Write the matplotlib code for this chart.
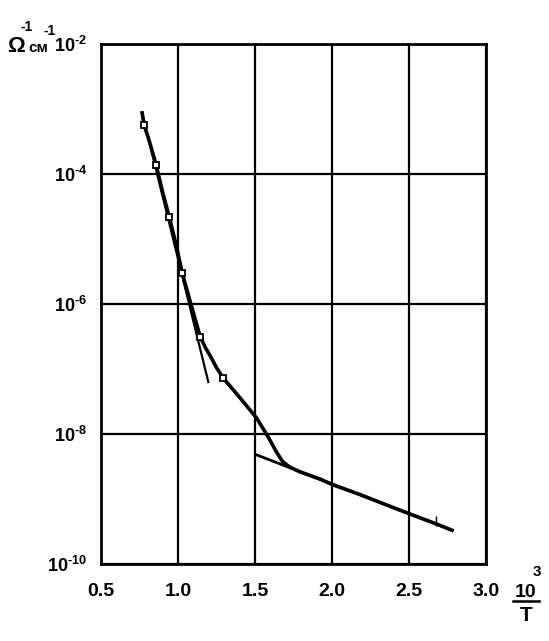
import numpy as np
import matplotlib.pyplot as plt
from matplotlib import font_manager
from matplotlib.lines import Line2D
from matplotlib.ticker import FixedLocator, FuncFormatter

# measured conductivity curve (x = 10^3/T, y = log10 sigma)
curve_x = [0.767, 0.780, 0.812, 0.858, 0.897, 0.943, 0.988, 1.027, 1.086, 1.145,
           1.180, 1.210, 1.250, 1.294, 1.398, 1.509, 1.587, 1.640, 1.678, 1.720,
           1.789, 1.919, 2.004, 2.180, 2.342, 2.505, 2.674, 2.779]
curve_logy = [-3.06, -3.25, -3.48, -3.86, -4.25, -4.66, -5.09, -5.52, -6.02, -6.51,
              -6.68, -6.80, -6.98, -7.14, -7.43, -7.75, -8.05, -8.28, -8.42, -8.50,
              -8.58, -8.69, -8.78, -8.93, -9.08, -9.23, -9.38, -9.48]

# open square markers
mark_x = [0.780, 0.858, 0.943, 1.027, 1.145, 1.294]
mark_logy = [-3.25, -3.86, -4.66, -5.52, -6.51, -7.14]
tick_mark_x = [2.674]
tick_mark_logy = [-9.34]

# straight-line fits
fit_hi_x = [0.767, 1.197]
fit_hi_logy = [-3.06, -7.20]
fit_lo_x = [1.509, 2.779]
fit_lo_logy = [-8.32, -9.48]

xticks = [0.5, 1.0, 1.5, 2.0, 2.5, 3.0]
yticks = [1e-10, 1e-8, 1e-6, 1e-4, 1e-2]

installed = {f.name for f in font_manager.fontManager.ttflist}
fam = 'Liberation Sans Narrow' if 'Liberation Sans Narrow' in installed else 'Liberation Sans'
plt.rcParams['font.family'] = [fam, 'DejaVu Sans']
plt.rcParams['font.weight'] = 'bold'
plt.rcParams['mathtext.fontset'] = 'custom'
plt.rcParams['mathtext.rm'] = fam + ':bold'
plt.rcParams['mathtext.bf'] = fam + ':bold'
plt.rcParams['mathtext.it'] = fam + ':bold'

W, H = 549, 641
fig = plt.figure(figsize=(W / 100, H / 100), dpi=100)
ax = fig.add_axes([101 / W, 1 - 564 / H, 385 / W, 520 / H])


def px(x, y):
    return x / W, 1 - y / H


to_y = lambda v: [10 ** a for a in v]
ax.plot(curve_x, to_y(curve_logy), color='black', lw=2.6, solid_joinstyle='round')
ax.plot(fit_hi_x, to_y(fit_hi_logy), color='black', lw=1.6)
ax.plot(fit_lo_x, to_y(fit_lo_logy), color='black', lw=2.0)
ax.plot(mark_x, to_y(mark_logy), ls='none', marker='s', ms=5,
        mfc='white', mec='black', mew=1.3)
ax.plot(tick_mark_x, to_y(tick_mark_logy), ls='none', marker='|', ms=7,
        mec='black', mew=1.0)

ax.set_yscale('log')
ax.set_xlim(0.5, 3.0)
ax.set_ylim(1e-10, 1e-2)

ax.xaxis.set_major_locator(FixedLocator(xticks))
ax.yaxis.set_major_locator(FixedLocator(yticks))
ax.yaxis.set_minor_locator(FixedLocator([]))
ax.xaxis.set_major_formatter(FuncFormatter(lambda v, p: f'{v:.1f}'))
# short hyphen in the exponent, like the dot-like minus of the original
ax.yaxis.set_major_formatter(FuncFormatter(
    lambda v, p: '$\\mathrm{10^{\u2010%d}}$' % abs(round(np.log10(v)))))

ax.grid(True, color='black', lw=1.6)
for s in ax.spines.values():
    s.set_linewidth(2.0)
ax.tick_params(length=0)
ax.tick_params(axis='x', pad=14, labelsize=14)
ax.tick_params(axis='y', pad=10, labelsize=13)

# y units label
fig.text(*px(7, 52), '\u03a9', fontsize=16, ha='left', va='baseline')
fig.text(*px(20, 31), '-1', fontsize=10, ha='left', va='baseline')
fig.text(*px(28, 52), 'см', fontsize=11, ha='left', va='baseline')
fig.text(*px(44, 35), '-1', fontsize=10, ha='left', va='baseline')

# x label 10^3/T
fig.text(*px(526, 597), '10', fontsize=14, ha='center', va='baseline')
fig.text(*px(537, 576), '3', fontsize=11, ha='center', va='baseline')
fig.add_artist(Line2D([513 / W, 539 / W], [1 - 601 / H, 1 - 601 / H],
                      color='black', lw=1.8))
fig.text(*px(526, 621), 'T', fontsize=15, ha='center', va='baseline')

fig.savefig('out.png', dpi=100)
